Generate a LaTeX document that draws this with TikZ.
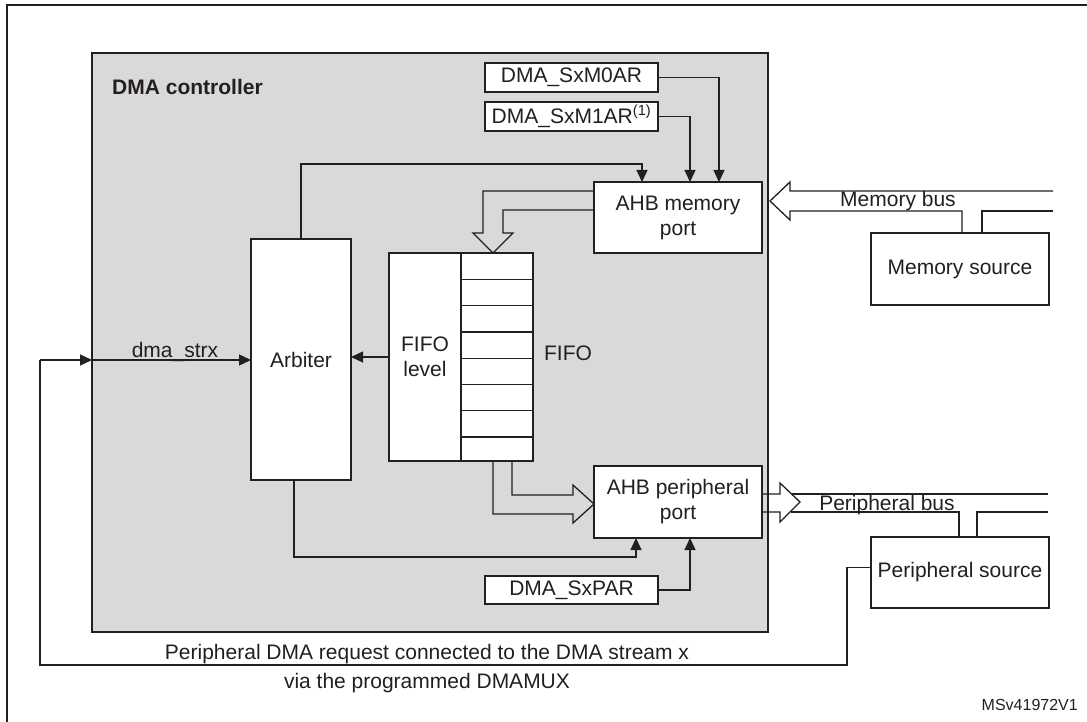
\documentclass[tikz,border=0pt]{standalone}
\usepackage{fontspec}
\setmainfont{Liberation Sans}
\usetikzlibrary{arrows.meta,calc}
\definecolor{ctrlgray}{RGB}{217,217,217}
\definecolor{ink}{RGB}{35,31,32}
\begin{document}
\begin{tikzpicture}[x=1pt,y=-1pt,
  font=\fontsize{21}{25}\selectfont,
  blk/.style={draw=ink, fill=white, line width=1.3pt, inner sep=0pt, outer sep=0pt, anchor=north west, align=center, text=ink},
  conn/.style={draw=ink, line width=1.3pt},
  arr/.style={conn, -{Triangle[length=12pt,width=11pt]}},
  bus/.style={draw=ink, line width=1.3pt, line join=miter},
  lbl/.style={inner sep=0pt, text=ink}]
\useasboundingbox (0,0) rectangle (1087,722);
% outer frame
\draw[ink, line width=2pt] (7,722) -- (7,5) -- (1087,5);
% DMA controller area
\node[blk, fill=ctrlgray, line width=2pt, minimum width=676pt, minimum height=579pt] (ctrl) at (92,53) {};
\node[lbl, anchor=west, font=\fontsize{21}{25}\selectfont\bfseries] (ctrllbl) at (112,87) {DMA controller};
% blocks
\node[blk, minimum width=173pt, minimum height=29pt] (m0ar) at (485,63) {DMA\_SxM0AR};
\node[blk, minimum width=173pt, minimum height=29pt] (m1ar) at (485,102) {DMA\_SxM1AR\textsuperscript{(1)}};
\node[blk, minimum width=168pt, minimum height=71pt] (ahbm) at (594,182) {AHB memory\\port};
\node[blk, minimum width=100pt, minimum height=241pt] (arb) at (251,239) {Arbiter};
\node[blk, minimum width=72pt, minimum height=208pt] (fifolvl) at (389,253) {FIFO\\level};
\node[blk, minimum width=72pt, minimum height=208pt] (fifoq) at (461,253) {};
\foreach \k in {1,...,7}
  \draw[conn] ($(fifoq.north west)+(0,26.3*\k)$) -- ($(fifoq.north east)+(0,26.3*\k)$);
\node[lbl] (fifolbl) at (568,353) {FIFO};
\node[blk, minimum width=168pt, minimum height=72pt] (ahbp) at (594,466) {AHB peripheral\\port};
\node[blk, minimum width=173pt, minimum height=28pt] (sxpar) at (485,576) {DMA\_SxPAR};
\node[blk, minimum width=178pt, minimum height=72pt] (memsrc) at (871,233) {Memory source};
\node[blk, minimum width=178pt, minimum height=71pt] (persrc) at (871,537) {Peripheral source};
% address registers to memory port
\draw[arr] (m0ar.east) -| ($(ahbm.north west)+(125,0)$);
\draw[arr] (m1ar.east) -| ($(ahbm.north west)+(96,0)$);
\draw[arr] (arb.north) |- ($(ahbm.north west)+(48,-18)$) -- ($(ahbm.north west)+(48,0)$);
% FIFO level to arbiter
\draw[arr] (fifolvl.west) -- (arb.east |- fifolvl.west);
% request lines
\coordinate (reqL) at (40,360);
\coordinate (reqR) at (847,665);
\draw[arr] (reqL) -- (ctrl.west |- reqL);
\draw[arr] (ctrl.west |- reqL) -- (arb.west |- reqL);
\node[lbl, anchor=base] (strxlbl) at (175,357) {dma\_strx};
\draw[conn] ($(persrc.west)+(0,-5)$) -| (reqR) -- (reqR -| reqL) -- (reqL);
\node[lbl, anchor=base] (req1) at (427,659) {Peripheral DMA request connected to the DMA stream x};
\node[lbl, anchor=base] (req2) at (427,688) {via the programmed DMAMUX};
% arbiter and PAR to peripheral port
\draw[arr] ($(arb.south)+(-7,0)$) |- ($(ahbp.south west)+(42,19)$) -- ($(ahbp.south west)+(42,0)$);
\draw[arr] (sxpar.east) -| ($(ahbp.south west)+(96,0)$);
% hollow data arrows
\draw[bus] ($(ahbm.north west)+(0,9)$) -| ++(-111,42) -- ++(-10,0) -- ++(20,20) -- ++(20,-20) -- ++(-10,0) |- ($(ahbm.north west)+(0,28)$);
\draw[bus] ($(fifoq.south west)+(32,0)$) |- ++(80,53) -- ++(0,9) -- ++(21,-19) -- ++(-21,-19) -- ++(0,10) -| ($(fifoq.south west)+(51,0)$);
% memory bus
\coordinate (mb1) at (1053,191);
\coordinate (mb2) at (1053,211);
\draw[bus] (mb1) -- (790,191) -- ++(0,-9) -- ++(-20,19) -- ++(20,19) -- ++(0,-9) -| ($(memsrc.north west)+(91,0)$);
\draw[bus] ($(memsrc.north west)+(111,0)$) |- (mb2);
\node[lbl, anchor=base] (mblbl) at (898,207) {Memory bus};
% peripheral bus
\coordinate (pb1) at (1048,494);
\coordinate (pb2) at (1048,512);
\draw[bus] ($(ahbp.north east)+(0,28)$) -- ++(18,0) -- ++(0,-11) -- ++(20,19) -- ++(-20,20) -- ++(0,-10) -- ($(ahbp.north east)+(0,46)$);
\draw[bus] (791.5,494) -- (pb1);
\draw[bus] (791,512) -| ($(persrc.north west)+(88,0)$);
\draw[bus] ($(persrc.north west)+(106,0)$) |- (pb2);
\node[lbl, anchor=base] (pblbl) at (887,510) {Peripheral bus};
% figure id
\node[lbl, anchor=base east, font=\fontsize{16}{19}\selectfont] (figid) at (1078,710) {MSv41972V1};
\end{tikzpicture}
\end{document}
